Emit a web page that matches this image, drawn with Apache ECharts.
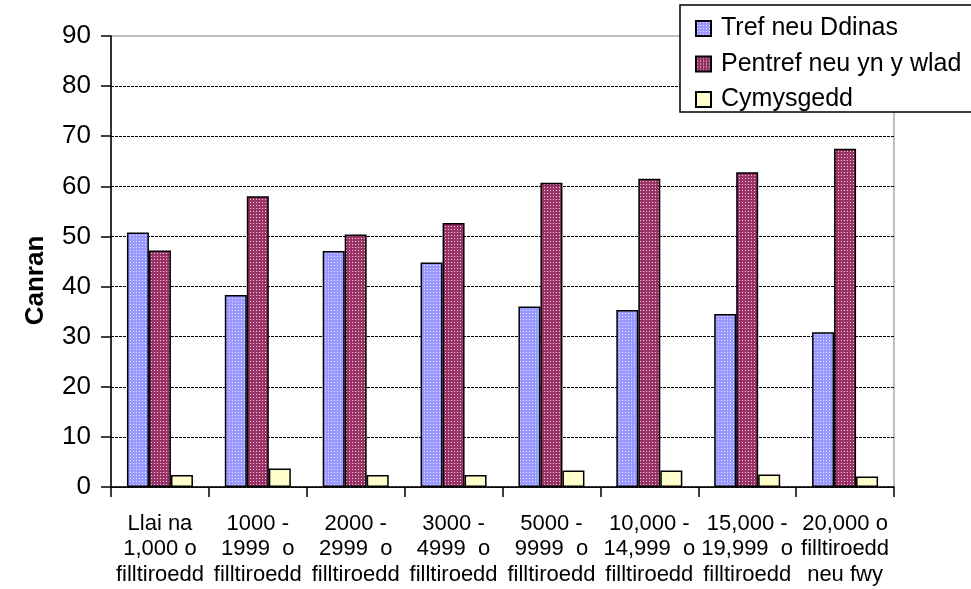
<!DOCTYPE html>
<html>
<head>
<meta charset="utf-8">
<script src="https://cdn.jsdelivr.net/npm/echarts@6/dist/echarts.min.js"></script>
<style>
  html, body { margin: 0; padding: 0; background: #fff; }
  #chart { width: 971px; height: 589px; }
</style>
</head>
<body>
<div id="chart"></div>
<script>
const categories = [
  'Llai na\n1,000 o\nfilltiroedd',
  '1000 -\n1999  o\nfilltiroedd',
  '2000 -\n2999  o\nfilltiroedd',
  '3000 -\n4999  o\nfilltiroedd',
  '5000 -\n9999  o\nfilltiroedd',
  '10,000 -\n14,999  o\nfilltiroedd',
  '15,000 -\n19,999  o\nfilltiroedd',
  '20,000 o\nfilltiroedd\nneu fwy'
];
const seriesNames = ['Tref neu Ddinas', 'Pentref neu yn y wlad', 'Cymysgedd'];
const trefValues = [50.8, 38.3, 47.1, 44.8, 36.0, 35.3, 34.5, 30.9];
const pentrefValues = [47.2, 58.0, 50.4, 52.7, 60.7, 61.5, 62.8, 67.5];
const cymysgeddValues = [2.4, 3.7, 2.4, 2.4, 3.3, 3.3, 2.5, 2.1];

const font = 'Arial, "Liberation Sans", sans-serif';

// small dotted fills like the old spreadsheet patterns
function dotPattern(base, dot) {
  const c = document.createElement('canvas');
  c.width = 3;
  c.height = 3;
  const ctx = c.getContext('2d');
  ctx.fillStyle = base;
  ctx.fillRect(0, 0, 3, 3);
  ctx.fillStyle = dot;
  ctx.fillRect(1, 1, 1, 1);
  return { image: c, repeat: 'repeat' };
}

const bluePattern = dotPattern('#9999ff', '#e0e0ff');
const redPattern = dotPattern('#993366', '#f0d0e0');

const chart = echarts.init(document.getElementById('chart'), null, { renderer: 'canvas' });

const barBase = {
  type: 'bar',
  barWidth: 22,
  barGap: '0%'
};

chart.setOption({
  animation: false,
  backgroundColor: '#fff',
  textStyle: { fontFamily: font, color: '#000' },
  grid: {
    left: 111,
    right: 77,
    top: 36,
    bottom: 102,
    containLabel: false,
    outerBoundsMode: 'none',
    show: true,
    borderColor: '#808080',
    borderWidth: 1,
    backgroundColor: 'transparent'
  },
  legend: {
    orient: 'vertical',
    left: 680,
    top: 5,
    padding: [11, 100, 0, 15],
    itemGap: 10.5,
    itemWidth: 15,
    itemHeight: 15,
    backgroundColor: '#fff',
    borderColor: '#000',
    borderWidth: 1.5,
    borderRadius: 0,
    icon: 'rect',
    textStyle: { fontFamily: font, fontSize: 25, lineHeight: 25, color: '#000', padding: [0, 0, 0, 5] },
    data: seriesNames
  },
  xAxis: {
    type: 'category',
    data: categories,
    axisLine: { lineStyle: { color: '#000', width: 1.5 } },
    axisTick: { show: true, length: 10, lineStyle: { color: '#000', width: 1.5 } },
    axisLabel: {
      interval: 0,
      margin: 24,
      fontSize: 22,
      lineHeight: 25.5,
      color: '#000',
      fontFamily: font
    },
    splitLine: { show: false }
  },
  yAxis: {
    type: 'value',
    min: 0,
    max: 90,
    interval: 10,
    name: 'Canran',
    nameLocation: 'middle',
    nameGap: 62,
    nameTextStyle: {
      fontFamily: font,
      fontSize: 26,
      fontWeight: 'bold',
      color: '#000',
      padding: [0, 38, 0, 0]
    },
    axisLine: { show: true, lineStyle: { color: '#000', width: 1.5 } },
    axisTick: { show: true, length: 10, lineStyle: { color: '#000', width: 1.5 } },
    axisLabel: { fontSize: 26, margin: 20, color: '#000', fontFamily: font },
    splitLine: {
      show: true,
      lineStyle: {
        color: ['#000', '#000', '#000', '#000', '#000', '#000', '#000', '#000', '#000', 'rgba(0,0,0,0)'],
        width: 1,
        type: [3, 1]
      }
    }
  },
  series: [
    Object.assign({}, barBase, {
      name: seriesNames[0],
      data: trefValues,
      itemStyle: { color: bluePattern, borderColor: '#000', borderWidth: 1.5 }
    }),
    Object.assign({}, barBase, {
      name: seriesNames[1],
      data: pentrefValues,
      itemStyle: { color: redPattern, borderColor: '#000', borderWidth: 1.5 }
    }),
    Object.assign({}, barBase, {
      name: seriesNames[2],
      data: cymysgeddValues,
      itemStyle: { color: '#ffffcc', borderColor: '#000', borderWidth: 1.5 }
    })
  ]
});
</script>
</body>
</html>
